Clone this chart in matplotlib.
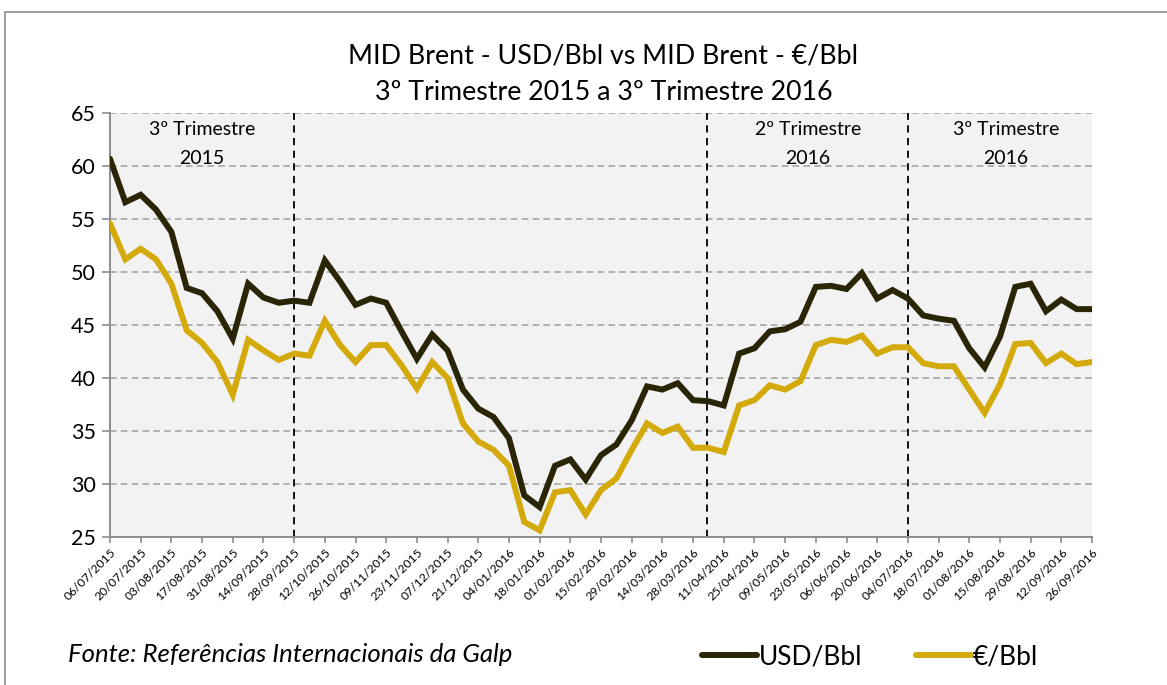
import matplotlib
matplotlib.use("Agg")
import matplotlib.pyplot as plt
from matplotlib.patches import Rectangle

plt.rcParams['font.family'] = ['Lato', 'DejaVu Sans']

# weekly quotes, 06/07/2015 .. 26/09/2016
dates = ["06/07/2015", "13/07/2015", "20/07/2015", "27/07/2015", "03/08/2015", "10/08/2015",
         "17/08/2015", "24/08/2015", "31/08/2015", "07/09/2015", "14/09/2015", "21/09/2015",
         "28/09/2015", "05/10/2015", "12/10/2015", "19/10/2015", "26/10/2015", "02/11/2015",
         "09/11/2015", "16/11/2015", "23/11/2015", "30/11/2015", "07/12/2015", "14/12/2015",
         "21/12/2015", "28/12/2015", "04/01/2016", "11/01/2016", "18/01/2016", "25/01/2016",
         "01/02/2016", "08/02/2016", "15/02/2016", "22/02/2016", "29/02/2016", "07/03/2016",
         "14/03/2016", "21/03/2016", "28/03/2016", "04/04/2016", "11/04/2016", "18/04/2016",
         "25/04/2016", "02/05/2016", "09/05/2016", "16/05/2016", "23/05/2016", "30/05/2016",
         "06/06/2016", "13/06/2016", "20/06/2016", "27/06/2016", "04/07/2016", "11/07/2016",
         "18/07/2016", "25/07/2016", "01/08/2016", "08/08/2016", "15/08/2016", "22/08/2016",
         "29/08/2016", "05/09/2016", "12/09/2016", "19/09/2016", "26/09/2016"]

usd_bbl = [60.7, 56.6, 57.3, 55.9, 53.8, 48.5, 48.0, 46.3, 43.7, 48.9, 47.6, 47.1, 47.3,
           47.1, 51.1, 49.1, 46.9, 47.5, 47.1, 44.4, 41.8, 44.1, 42.6, 38.9, 37.1, 36.3,
           34.3, 28.9, 27.8, 31.7, 32.3, 30.4, 32.7, 33.7, 36.0, 39.2, 38.9, 39.5, 37.9,
           37.8, 37.4, 42.3, 42.8, 44.4, 44.6, 45.3, 48.6, 48.7, 48.4, 49.9, 47.5, 48.3,
           47.5, 45.9, 45.6, 45.4, 42.8, 41.0, 43.9, 48.6, 48.9, 46.3, 47.4, 46.5, 46.5]

eur_bbl = [54.6, 51.2, 52.2, 51.2, 48.9, 44.5, 43.3, 41.5, 38.4, 43.6, 42.6, 41.7, 42.3,
           42.1, 45.4, 43.1, 41.5, 43.1, 43.1, 41.2, 39.0, 41.5, 40.0, 35.7, 34.0, 33.2,
           31.7, 26.4, 25.6, 29.2, 29.4, 27.1, 29.4, 30.5, 33.2, 35.7, 34.8, 35.4, 33.4,
           33.4, 33.0, 37.4, 37.9, 39.3, 38.9, 39.7, 43.1, 43.6, 43.4, 44.0, 42.3, 42.9,
           42.9, 41.4, 41.1, 41.1, 38.9, 36.7, 39.4, 43.2, 43.3, 41.4, 42.3, 41.3, 41.5]

quarter_labels = ["3º Trimestre\n2015", "2º Trimestre\n2016", "3º Trimestre\n2016"]
quarter_label_pos = [6.0, 45.5, 58.4]
quarter_breaks = [12, 38.9, 52]

W, H = 1167, 685
fig = plt.figure(figsize=(W / 100, H / 100), dpi=100)
fig.patches.append(Rectangle((5 / W, -0.1), 1.2, 1 - 12 / H + 0.1, transform=fig.transFigure,
                             fill=False, edgecolor='#8c8c8c', lw=1.2))

ax = fig.add_axes([110 / W, (H - 536.7) / H, (1092 - 110) / W, (536.7 - 113.3) / H])
ax.set_facecolor('#f2f2f2')

x = list(range(len(dates)))
ax.plot(x, usd_bbl, color='#2a2506', lw=4.3, solid_joinstyle='miter', solid_capstyle='round',
        label='USD/Bbl', zorder=3)
ax.plot(x, eur_bbl, color='#d4aa0b', lw=4.3, solid_joinstyle='miter', solid_capstyle='round',
        label='€/Bbl', zorder=3)

for xb in quarter_breaks:
    ax.axvline(xb, color='black', lw=1.3, ls=(0, (4, 3)), zorder=2)
for xl, txt in zip(quarter_label_pos, quarter_labels):
    ax.text(xl, 64.3, txt, ha='center', va='top', fontsize=14, linespacing=1.9)

ax.set_xlim(0, len(dates) - 1)
ax.set_ylim(25, 65)
ax.set_yticks(range(25, 70, 5))
ax.yaxis.grid(True, color='#a6a6a6', ls=(0, (4, 2.5)), lw=1.2)
ax.set_axisbelow(True)
ax.set_xticks(x[::2])
ax.set_xticklabels(dates[::2], rotation=45, ha='right', rotation_mode='anchor', fontsize=8.8)
ax.tick_params(axis='y', labelsize=15.5, length=6, width=1.2, color='#8c8c8c', pad=4)
ax.tick_params(axis='x', length=4, width=1.2, color='#8c8c8c', pad=3)
for side in ['top', 'right']:
    ax.spines[side].set_visible(False)
for side in ['left', 'bottom']:
    ax.spines[side].set_color('#8c8c8c')
    ax.spines[side].set_linewidth(1.4)

fig.text(0.517, 1 - 56 / H, "MID Brent - USD/Bbl vs MID Brent - €/Bbl", ha='center', va='center', fontsize=19.3)
fig.text(0.517, 1 - 93 / H, "3º Trimestre 2015 a 3º Trimestre 2016", ha='center', va='center', fontsize=19.3)

fig.text(68 / W, 1 - 654 / H, "Fonte: Referências Internacionais da Galp", style='italic',
         ha='left', va='center', fontsize=18.5)

fig.legend(loc='center', bbox_to_anchor=(870 / W, 1 - 657 / H), ncol=2, frameon=False,
           fontsize=19, handlelength=2.1, handletextpad=0.08, columnspacing=2.0)

fig.savefig('out.png', dpi=100)
